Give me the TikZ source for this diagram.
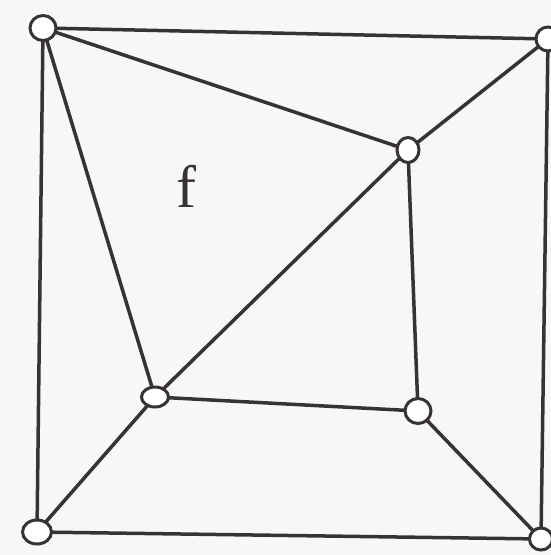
\documentclass[tikz,border=0pt]{standalone}
\usepackage{fontspec}
\setmainfont{Liberation Serif}
\usetikzlibrary{shapes.geometric}
\definecolor{ink}{HTML}{383333}
\definecolor{paper}{HTML}{F7F6F8}
\begin{document}
\begin{tikzpicture}[x=1pt,y=-1pt,
  vtx/.style={ellipse,draw=ink,fill=white,line width=3pt,inner sep=0pt,minimum width=23pt,minimum height=22pt},
  edge/.style={draw=ink,line width=3.5pt}]
\fill[paper] (0,0) rectangle (551,555);
\useasboundingbox (0,0) rectangle (551,555);
\coordinate (tl) at (43,28);
\coordinate (tr) at (548,39);
\coordinate (mr) at (408,150);
\coordinate (bli) at (155,397);
\coordinate (bm) at (418,411);
\coordinate (bl) at (37,532);
\coordinate (br) at (541,539);
\path[edge] (tl) -- (tr);
\path[edge] (tl) -- (mr);
\path[edge] (tl) -- (bl);
\path[edge] (tl) -- (bli);
\path[edge] (tr) -- (mr);
\path[edge] (tr) -- (br);
\path[edge] (mr) -- (bli);
\path[edge] (mr) -- (bm);
\path[edge] (bli) -- (bm);
\path[edge] (bli) -- (bl);
\path[edge] (bm) -- (br);
\path[edge] (bl) -- (br);
\node[vtx,minimum width=26pt,minimum height=25pt] (ntl) at (tl) {};
\node[vtx,minimum width=24pt,minimum height=24pt] (ntr) at (tr) {};
\node[vtx,minimum width=22pt,minimum height=25pt] (nmr) at (mr) {};
\node[vtx,minimum width=27pt,minimum height=20pt] (nbli) at (bli) {};
\node[vtx,minimum width=26pt,minimum height=25pt] (nbm) at (bm) {};
\node[vtx,minimum width=29pt,minimum height=24pt] (nbl) at (bl) {};
\node[vtx,minimum width=23pt,minimum height=22pt] (nbr) at (br) {};
\node[text=ink,font=\fontsize{60}{64}\selectfont] (f) at (186,186) {f};
\end{tikzpicture}
\end{document}
